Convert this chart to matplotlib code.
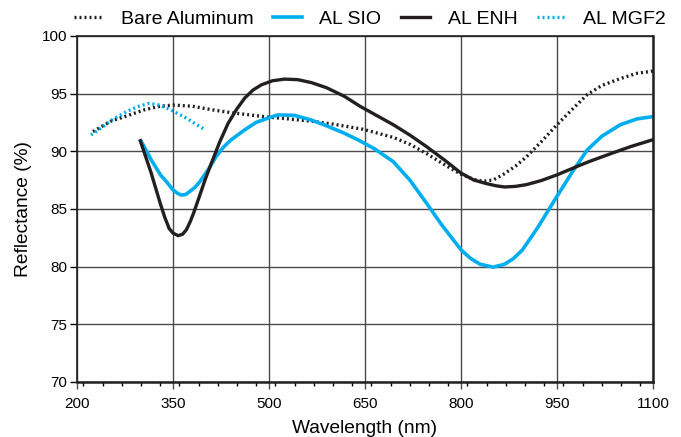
import matplotlib
matplotlib.use('Agg')
import matplotlib.pyplot as plt
from matplotlib.ticker import MultipleLocator

plt.rcParams['font.family'] = ['Liberation Sans', 'DejaVu Sans']

# ==================== data ====================
bare_wl = [225, 253, 280, 306, 330, 350, 380, 410, 440, 462, 500, 530, 566, 600,
           647, 694, 720, 746, 775, 800, 820, 834, 850, 865, 885, 902, 925, 950,
           975, 997, 1020, 1049, 1075, 1100]
bare_r = [91.7, 92.6, 93.1, 93.6, 93.9, 94.0, 93.9, 93.6, 93.35, 93.2, 92.95, 92.8, 92.6, 92.35,
          91.9, 91.2, 90.6, 89.8, 88.8, 88.0, 87.55, 87.4, 87.5, 87.95, 88.7, 89.5, 90.8, 92.3,
          93.7, 94.9, 95.7, 96.3, 96.75, 96.95]

sio_wl = [300, 316, 331, 340, 350, 357, 363, 370, 376, 384, 392, 405, 417, 428, 440, 462, 480,
          500, 514, 540, 566, 590, 618, 642, 665, 694, 720, 746, 770, 800, 815, 830, 850,
          868, 882, 896, 920, 950, 975, 997, 1020, 1049, 1075, 1100]
sio_r = [90.9, 89.25, 87.9, 87.35, 86.65, 86.35, 86.2, 86.25, 86.5, 86.85, 87.36, 88.4, 89.5, 90.3, 90.95,
         91.85, 92.5, 92.9, 93.15, 93.1, 92.7, 92.2, 91.55, 90.9, 90.2, 89.1, 87.5, 85.5, 83.6,
         81.45, 80.7, 80.2, 79.95, 80.2, 80.7, 81.45, 83.4, 86.1, 88.3, 90.1, 91.3, 92.3, 92.8, 93.0]

enh_wl = [299, 316, 330, 337, 344, 350, 358, 365, 371, 377, 382, 392, 400, 410, 423, 436, 449,
          462, 475, 488, 505, 524, 545, 566, 590, 618, 642, 668, 694, 720, 746, 775, 800, 820,
          839, 855, 868, 885, 902, 925, 950, 980, 1000, 1032, 1065, 1100]
enh_r = [90.9, 88.1, 85.5, 84.3, 83.3, 82.9, 82.68, 82.8, 83.2, 83.9, 84.6, 86.2, 87.5, 88.96, 90.8, 92.4,
         93.6, 94.6, 95.3, 95.75, 96.1, 96.25, 96.2, 95.95, 95.5, 94.75, 93.9, 93.1, 92.3, 91.4, 90.4,
         89.2, 88.1, 87.5, 87.2, 87.0, 86.9, 86.95, 87.1, 87.45, 87.95, 88.65, 89.1, 89.75, 90.4, 91.0]

mgf_wl = [222, 240, 254, 267, 280, 297, 313, 328, 342, 358, 373, 387, 399]
mgf_r = [91.4, 92.1, 92.7, 93.1, 93.5, 93.9, 94.15, 94.0, 93.7, 93.25, 92.8, 92.3, 91.9]

x_ticks = [200, 350, 500, 650, 800, 950, 1100]
y_ticks = [70, 75, 80, 85, 90, 95, 100]
# ======================================================================

BLUE = '#00AEEF'
INK = '#231f20'

fig = plt.figure(figsize=(6.81, 4.37), dpi=100)
ax = fig.add_axes([0.113, 0.126, 0.846, 0.792])

ax.grid(True, color='#4a4a4a', linewidth=1.0)
ax.set_axisbelow(True)

l1, = ax.plot(bare_wl, bare_r, color=INK, linestyle=(0, (0.6, 0.9)), linewidth=2.4,
              label='Bare Aluminum')
l2, = ax.plot(sio_wl, sio_r, color=BLUE, linewidth=2.6, label='AL SIO')
l3, = ax.plot(enh_wl, enh_r, color=INK, linewidth=2.4, label='AL ENH')
l4, = ax.plot(mgf_wl, mgf_r, color=BLUE, linestyle=(0, (0.6, 0.9)), linewidth=2.4,
              label='AL MGF2')

ax.set_xlim(200, 1100)
ax.set_ylim(70, 100)
ax.set_xticks(x_ticks)
ax.set_yticks(y_ticks)
ax.xaxis.set_minor_locator(MultipleLocator(30))
ax.tick_params(axis='x', which='major', direction='out', length=5, width=1,
               color='#4a4a4a', pad=6, labelsize=11)
ax.tick_params(axis='x', which='minor', direction='out', length=3, width=1, bottom=True)
ax.tick_params(axis='y', which='major', direction='out', length=5, width=1, labelsize=11, pad=2)

for side in ['left', 'bottom', 'right', 'top']:
    ax.spines[side].set_linewidth(1.8 if side in ('bottom', 'right') else 1.2)
    ax.spines[side].set_color(INK)

ax.set_xlabel('Wavelength (nm)', fontsize=13.8, labelpad=6)
ax.set_ylabel('Reflectance (%)', fontsize=13.8, labelpad=7)

fig.legend(handles=[l1, l2, l3, l4], loc='upper left', ncol=4, frameon=False,
           bbox_to_anchor=(0.1087, 0.976), borderpad=0, borderaxespad=0, fontsize=14,
           handlelength=1.5, columnspacing=1.0, handletextpad=0.9)

fig.savefig('out.png', dpi=100)
